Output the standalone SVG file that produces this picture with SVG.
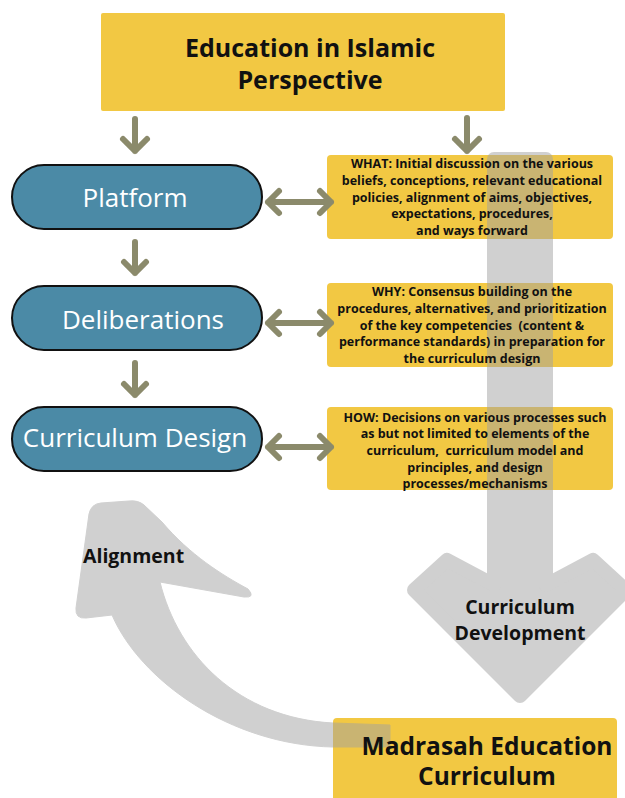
<svg xmlns="http://www.w3.org/2000/svg" width="625" height="798" viewBox="0 0 625 798">
<style>
.yb{fill:#f2c843}
.pill{fill:#4b8aa6;stroke:#111;stroke-width:2}
.pt{font-family:"Open Sans","Liberation Sans",sans-serif;font-size:26px;fill:#fff;text-anchor:middle}
.bt{font-family:"Open Sans","Liberation Sans",sans-serif;font-weight:bold;fill:#111;text-anchor:middle}
.st{font-size:12.5px}
.conn{fill:none;stroke:#8b8a6b;stroke-width:6;stroke-linecap:round;stroke-linejoin:round}
.gray{fill:#a2a2a2;stroke:#a2a2a2}
</style>
<rect width="625" height="798" fill="#fff"/>

<g id="top">
<rect class="yb" x="101" y="13" width="404" height="98" rx="2"/>
</g>
<g id="what"><rect class="yb" x="327" y="155" width="286" height="84" rx="4"/></g>
<g id="why"><rect class="yb" x="327" y="283" width="286" height="84" rx="4"/></g>
<g id="how"><rect class="yb" x="327" y="407" width="286" height="83" rx="4"/></g>
<g id="madrasah"><rect class="yb" x="333" y="718" width="284" height="90" rx="4"/></g>

<g id="curriculum-development">
<g opacity="0.5">
<path class="gray" stroke-width="14" stroke-linejoin="round" d="M494,159 H546 V585 L593,560 L626,590 L520,696 L414,590 L447,560 L494,585 Z"/>
</g>
<text class="bt" font-size="19.5" x="520" y="614">Curriculum</text>
<text class="bt" font-size="19.5" x="520" y="640">Development</text>
</g>

<g id="alignment">
<g opacity="0.5">
<path class="gray" stroke="none" d="M390,725 L333,723 C238,718 178,655 160,582 L244,597 Q256,598 248,589 C222,575 190,555 162,522 L144,505 Q138,500 129,501 L101,503 Q91,504 89,514 L76,608 Q75,619 86,618 L112,615 C140,680 230,745 333,747 L390,747 Z"/>
</g>
<text class="bt" font-size="19.5" x="83" y="563" style="text-anchor:start">Alignment</text>
</g>

<g id="platform">
<rect class="pill" x="12" y="165" width="250" height="64" rx="32"/>
<text class="pt" x="135" y="207">Platform</text>
</g>
<g id="deliberations">
<rect class="pill" x="12" y="286" width="250" height="64" rx="32"/>
<text class="pt" x="143" y="329">Deliberations</text>
</g>
<g id="curriculum-design">
<rect class="pill" x="12" y="407" width="250" height="64" rx="32"/>
<text class="pt" x="135" y="447">Curriculum Design</text>
</g>

<g id="connectors">
<path class="conn" d="M135,119 V151 M123,139 L135,151 L147,139"/>
<path class="conn" d="M467,118 V151 M455,139 L467,151 L479,139"/>
<path class="conn" d="M135,242 V273 M124,262 L135,273 L146,262"/>
<path class="conn" d="M135,363 V395 M124,384 L135,395 L146,384"/>
<path class="conn" d="M268,202 H331 M279,191 L268,202 L279,213 M320,191 L331,202 L320,213"/>
<path class="conn" d="M268,323 H331 M279,312 L268,323 L279,334 M320,312 L331,323 L320,334"/>
<path class="conn" d="M268,447 H331 M279,436 L268,447 L279,458 M320,436 L331,447 L320,458"/>
</g>

<g id="labels">
<text class="bt" font-size="25" x="310" y="57">Education in Islamic</text>
<text class="bt" font-size="25" x="310" y="89">Perspective</text>

<text class="bt st" x="472" y="168">WHAT: Initial discussion on the various</text>
<text class="bt st" x="472" y="185">beliefs, conceptions, relevant educational</text>
<text class="bt st" x="472" y="202">policies, alignment of aims, objectives,</text>
<text class="bt st" x="472" y="218">expectations, procedures,</text>
<text class="bt st" x="472" y="235">and ways forward</text>

<text class="bt st" x="472" y="296">WHY: Consensus building on the</text>
<text class="bt st" x="472" y="313">procedures, alternatives, and prioritization</text>
<text class="bt st" x="472" y="330">of the key competencies &#160;(content &amp;</text>
<text class="bt st" x="472" y="346">performance standards) in preparation for</text>
<text class="bt st" x="472" y="363">the curriculum design</text>

<text class="bt st" x="475" y="422">HOW: Decisions on various processes such</text>
<text class="bt st" x="475" y="438">as but not limited to elements of the</text>
<text class="bt st" x="475" y="455">curriculum, &#160;curriculum model and</text>
<text class="bt st" x="475" y="472">principles, and design</text>
<text class="bt st" x="475" y="488">processes/mechanisms</text>

<text class="bt" font-size="24.5" x="487" y="755">Madrasah Education</text>
<text class="bt" font-size="24.5" x="487" y="785">Curriculum</text>
</g>
</svg>
